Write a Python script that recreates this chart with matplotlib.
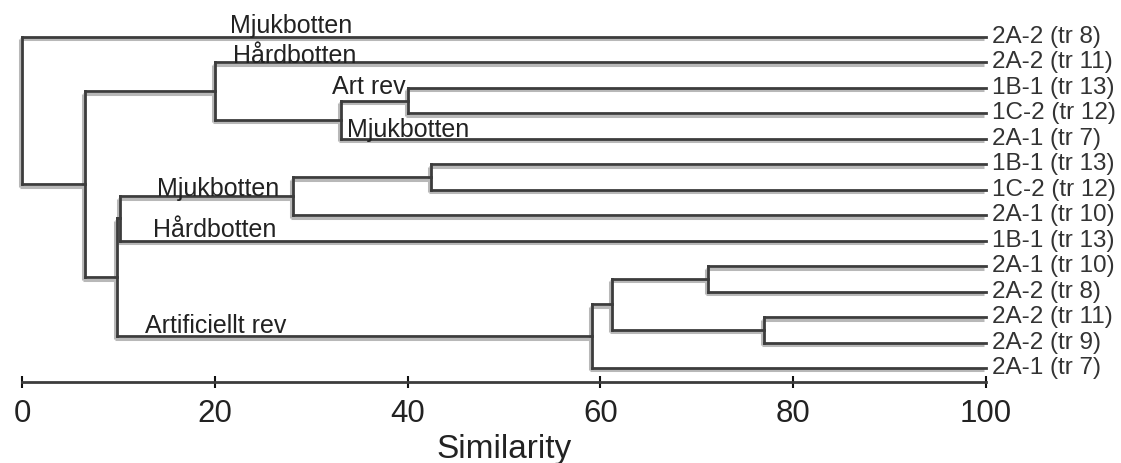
import matplotlib
matplotlib.use('Agg')
import matplotlib.pyplot as plt
import matplotlib.transforms as mtransforms

plt.rcParams['font.family'] = ['Liberation Sans', 'DejaVu Sans']

# leaf labels, top to bottom
leaves = ['2A-2 (tr 8)', '2A-2 (tr 11)', '1B-1 (tr 13)', '1C-2 (tr 12)', '2A-1 (tr 7)',
          '1B-1 (tr 13)', '1C-2 (tr 12)', '2A-1 (tr 10)', '1B-1 (tr 13)',
          '2A-1 (tr 10)', '2A-2 (tr 8)', '2A-2 (tr 11)', '2A-2 (tr 9)', '2A-1 (tr 7)']

# merges: (child a, child b, similarity); leaves are 0..13, new nodes 14, 15, ...
merge_a = [2, 14, 1, 5, 17, 18, 9, 11, 20, 22, 19, 16, 0]
merge_b = [3, 4, 15, 6, 7, 8, 10, 12, 21, 13, 23, 24, 25]
merge_sim = [40.0, 33.1, 20.0, 42.4, 28.1, 10.2, 71.2, 77.0, 61.2, 59.1, 9.9, 6.5, 0.0]

# group labels: text, similarity of left edge, row position of baseline
group_text = ['Mjukbotten', 'Hårdbotten', 'Art rev', 'Mjukbotten',
              'Mjukbotten', 'Hårdbotten', 'Artificiellt rev']
group_x = [21.6, 21.9, 32.2, 33.7, 14.0, 13.6, 12.8]
group_y = [-0.16, 1.02, 2.24, 3.93, 6.24, 7.86, 11.63]

fig = plt.figure(figsize=(11.21, 4.63), dpi=100)
ax = fig.add_axes([22 / 1121, (463 - 382) / 463, 964 / 1121, 370.5 / 463])

shadow = mtransforms.offset_copy(ax.transData, fig=fig, x=-2, y=-2.5, units='dots')

xs = [100.0] * len(leaves)
ys = [float(i) for i in range(len(leaves))]
for a, b, s in zip(merge_a, merge_b, merge_sim):
    segs = [([s, xs[a]], [ys[a], ys[a]]),
            ([s, xs[b]], [ys[b], ys[b]]),
            ([s, s], [ys[a], ys[b]])]
    for sx, sy in segs:
        ax.plot(sx, sy, color='#b8b8b8', lw=2.2, transform=shadow,
                solid_capstyle='butt', clip_on=False)
    for sx, sy in segs:
        ax.plot(sx, sy, color='#3c3c3c', lw=2.0, solid_capstyle='projecting',
                clip_on=False)
    xs.append(s)
    ys.append((ys[a] + ys[b]) / 2)

for i, lab in enumerate(leaves):
    ax.text(100.6, i, lab, fontsize=17.5, color='#333333', va='center', ha='left',
            clip_on=False)

for t, gx, gy in zip(group_text, group_x, group_y):
    ax.text(gx, gy, t, fontsize=18, color='#222222', va='baseline', ha='left')

ax.set_xlim(0, 100)
ax.set_ylim(13.55, -1)
for side in ['top', 'right', 'left']:
    ax.spines[side].set_visible(False)
ax.spines['bottom'].set_linewidth(2.0)
ax.spines['bottom'].set_color('#3c3c3c')
ax.set_yticks([])
ax.set_xticks([0, 20, 40, 60, 80, 100])
ax.tick_params(axis='x', direction='inout', length=9, width=1.5, color='#111111',
               labelsize=22.5, labelcolor='#222222', pad=8)
ax.set_xlabel('Similarity', fontsize=24, color='#222222', labelpad=3)

fig.savefig('out.png', dpi=100)
